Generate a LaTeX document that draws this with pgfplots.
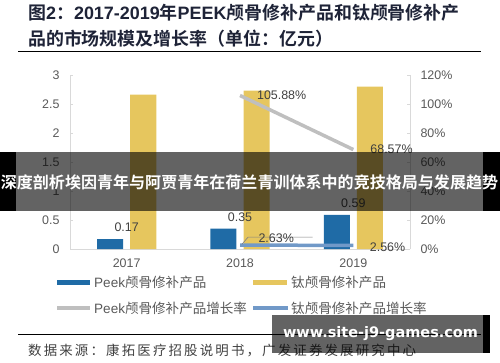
\documentclass[border=0pt]{standalone}
\usepackage{fontspec}
\usepackage{graphicx}
\usepackage{pgfplots}
\pgfplotsset{compat=1.18}
\setmainfont{Liberation Sans}
\newfontfamily\cjk{Noto Sans CJK SC}
\newfontfamily\cjkb{Noto Sans CJK SC Bold}
\newfontfamily\wm{DejaVu Sans Bold}
\definecolor{pblue}{RGB}{31,107,166}
\definecolor{tyel}{RGB}{230,198,94}
\definecolor{gline}{RGB}{191,191,191}
\definecolor{tline}{RGB}{113,153,200}
\definecolor{lab}{RGB}{89,89,89}
\definecolor{dlab}{RGB}{64,64,64}
\definecolor{axg}{RGB}{217,217,217}
\definecolor{titlec}{RGB}{30,35,55}
\begin{document}
\begin{tikzpicture}[x=1bp,y=1bp]
\path[use as bounding box] (0,0) rectangle (500,-362);
% title
\node[anchor=west, inner sep=0, text=titlec, font=\fontsize{18}{18}\selectfont] at (28,-13)
 {{\cjkb 图}\textbf{2}{\cjkb ：}\textbf{2017-2019}{\cjkb 年}\textbf{PEEK}{\cjkb 颅骨修补产品和钛颅骨修补产}};
\node[anchor=west, inner sep=0, text=titlec, font=\fontsize{18}{18}\selectfont] at (28,-39)
 {{\cjkb 品的市场规模及增长率（单位：亿元）}};
\draw[line width=1bp] (18,-51) -- (481,-51);

\begin{axis}[at={(70bp,-249bp)}, anchor=south west, scale only axis,
 width=340bp, height=174bp, clip=false,
 xmin=-0.5, xmax=2.5, ymin=0, ymax=3,
 axis x line*=bottom, axis y line*=left,
 axis line style={draw=axg, line width=0.8bp, -},
 xtick={0,1,2}, xticklabels={2017,2018,2019},
 x tick style={draw=none},
 ytick={0,0.5,1,1.5,2,2.5,3}, yticklabels={0,0.5,1,1.5,2,2.5,3},
 y tick style={draw=axg, line width=0.8bp},
 tick align=inside, major tick length=3bp,
 tick label style={font=\fontsize{12.5}{12.5}\selectfont, text=lab},
 yticklabel style={xshift=-7bp}, xticklabel style={yshift=-6bp},
 point meta=explicit symbolic]
\addplot[ybar, bar width=0.23, bar shift=-0.146, fill=pblue, draw=none,
 nodes near coords=\pgfplotspointmeta,
 every node near coord/.append style={font=\fontsize{12.5}{12.5}\selectfont, text=dlab, yshift=4bp}]
 coordinates {(0,0.17) [0.17] (1,0.35) [0.35] (2,0.59) [0.59]};
\addplot[ybar, bar width=0.23, bar shift=0.146, fill=tyel, draw=none]
 coordinates {(0,2.66) [] (1,2.73) [] (2,2.80) []};
\end{axis}

\begin{axis}[at={(70bp,-249bp)}, anchor=south west, scale only axis,
 width=340bp, height=174bp, clip=false,
 xmin=-0.5, xmax=2.5, ymin=0, ymax=1.2,
 axis y line*=right, axis x line=none,
 axis line style={draw=axg, line width=0.8bp, -},
 ytick={0,0.2,0.4,0.6,0.8,1,1.2},
 yticklabels={0\%,20\%,40\%,60\%,80\%,100\%,120\%},
 y tick style={draw=axg, line width=0.8bp},
 tick align=inside, major tick length=3bp,
 tick label style={font=\fontsize{12.5}{12.5}\selectfont, text=lab},
 yticklabel style={xshift=7bp},
 point meta=explicit symbolic]
\addplot[gline, line width=3.5bp, nodes near coords=\pgfplotspointmeta,
 every node near coord/.append style={anchor=west, xshift=12bp, font=\fontsize{12.5}{12.5}\selectfont, text=dlab}]
 coordinates {(1,1.0588) [105.88\%] (2,0.6857) [68.57\%]};
\addplot[tline, line width=3.5bp] coordinates {(1,0.0263) [] (2,0.0256) []};
\addplot[draw=none, nodes near coords=\pgfplotspointmeta,
 every node near coord/.append style={anchor=south west, xshift=15bp, yshift=-1bp, font=\fontsize{12.5}{12.5}\selectfont, text=dlab}]
 coordinates {(1,0.0263) [2.63\%]};
\addplot[draw=none, nodes near coords=\pgfplotspointmeta,
 every node near coord/.append style={anchor=west, xshift=13bp, yshift=-1.5bp, font=\fontsize{12.5}{12.5}\selectfont, text=dlab}]
 coordinates {(2,0.0256) [2.56\%]};
\draw[gray, line width=0.6bp] (axis cs:1,0.0263) ++(2bp,1bp) -- ++(6bp,7bp) -- ++(8bp,0);
\end{axis}

% legend
\begin{scope}[font=\fontsize{13.6}{13.6}\selectfont]
\draw[pblue, line width=5bp] (57,-282) -- (90,-282);
\node[anchor=west, inner sep=0, text=lab] at (94,-282) {Peek{\cjk 颅骨修补产品}};
\draw[tyel, line width=5bp] (253,-282) -- (287,-282);
\node[anchor=west, inner sep=0, text=lab] at (291,-282) {{\cjk 钛颅骨修补产品}};
\draw[gline, line width=4bp] (57,-308) -- (90,-308);
\node[anchor=west, inner sep=0, text=lab] at (94,-308) {Peek{\cjk 颅骨修补产品增长率}};
\draw[tline, line width=4bp] (253,-308) -- (288,-308);
\node[anchor=west, inner sep=0, text=lab] at (291,-308) {{\cjk 钛颅骨修补产品增长率}};
\end{scope}

% source
\draw[line width=1bp] (18,-334.5) -- (481,-334.5);
\node[anchor=west, inner sep=0, text=dlab, font=\fontsize{13.5}{13.5}\selectfont] at (28,-350)
 {\cjk\addfontfeatures{LetterSpace=16}数据来源：康拓医疗招股说明书，广发证券发展研究中心};

% banner overlay
\fill[black] (0,-152) rectangle (16,-211);
\fill[black, opacity=0.61] (16,-152) rectangle (483,-211);
\fill[black] (483,-152) rectangle (500,-211);
\node[text=white, inner sep=0, font=\fontsize{16.1}{16.1}\selectfont] at (249.5,-182)
 {\cjkb 深度剖析埃因青年与阿贾青年在荷兰青训体系中的竞技格局与发展趋势};

% watermark
\fill[black, opacity=0.61] (272,-315) rectangle (483,-353);
\fill[black] (483,-315) rectangle (490,-353);
\node[text=white, inner sep=0] at (380.5,-334)
 {\resizebox{195bp}{!}{\wm www.site-j9-games.com}};
\end{tikzpicture}
\end{document}
